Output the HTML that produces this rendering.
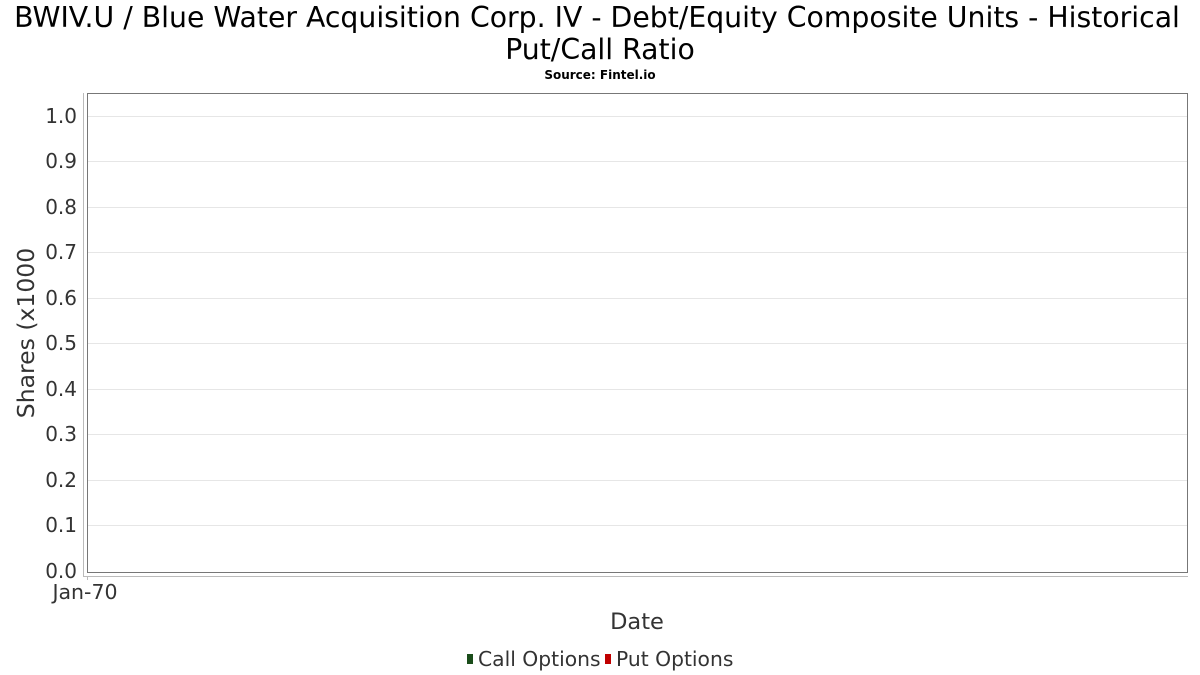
<!DOCTYPE html>
<html><head><meta charset="utf-8"><style>
html,body{margin:0;padding:0;background:#fff;}
svg{display:block;font-family:"DejaVu Sans","Liberation Sans",sans-serif;}
</style></head><body>
<svg width="1200" height="675" xmlns="http://www.w3.org/2000/svg">
<rect width="1200" height="675" fill="#fff"/>
<text x="597" y="27" font-size="28.3" text-anchor="middle" fill="#000">BWIV.U / Blue Water Acquisition Corp. IV - Debt/Equity Composite Units - Historical</text>
<text x="600" y="59" font-size="28.3" text-anchor="middle" fill="#000">Put/Call Ratio</text>
<text x="600" y="79" font-size="12" font-weight="bold" text-anchor="middle" fill="#000">Source: Fintel.io</text>
<g stroke="#e6e6e6" stroke-width="1">
<line x1="88" x2="1188" y1="116.5" y2="116.5"/>
<line x1="88" x2="1188" y1="161.5" y2="161.5"/>
<line x1="88" x2="1188" y1="207.5" y2="207.5"/>
<line x1="88" x2="1188" y1="252.5" y2="252.5"/>
<line x1="88" x2="1188" y1="298.5" y2="298.5"/>
<line x1="88" x2="1188" y1="343.5" y2="343.5"/>
<line x1="88" x2="1188" y1="389.5" y2="389.5"/>
<line x1="88" x2="1188" y1="434.5" y2="434.5"/>
<line x1="88" x2="1188" y1="480.5" y2="480.5"/>
<line x1="88" x2="1188" y1="525.5" y2="525.5"/>
</g>
<rect x="87.5" y="93.5" width="1100" height="479" fill="none" stroke="#777" stroke-width="1"/>
<line x1="83.5" y1="93" x2="83.5" y2="577" stroke="#bbb"/>
<line x1="83" y1="576.5" x2="1188" y2="576.5" stroke="#bbb"/>
<line x1="87.5" y1="576" x2="87.5" y2="580" stroke="#bbb"/>
<g font-size="20" fill="#333" text-anchor="end">
<text x="77" y="123">1.0</text>
<text x="77" y="168">0.9</text>
<text x="77" y="214">0.8</text>
<text x="77" y="259">0.7</text>
<text x="77" y="305">0.6</text>
<text x="77" y="350">0.5</text>
<text x="77" y="396">0.4</text>
<text x="77" y="441">0.3</text>
<text x="77" y="487">0.2</text>
<text x="77" y="532">0.1</text>
<text x="77" y="578">0.0</text>
</g>
<text x="85" y="599" font-size="20.5" fill="#333" text-anchor="middle">Jan-70</text>
<text x="637" y="629" font-size="22.5" fill="#333" text-anchor="middle">Date</text>
<text transform="translate(34,333) rotate(-90)" font-size="23.5" fill="#333" text-anchor="middle">Shares (x1000</text>
<rect x="467" y="654" width="6" height="10" fill="#1a4d1a"/>
<text x="478" y="666" font-size="20.3" fill="#333">Call Options</text>
<rect x="605" y="654" width="6" height="10" fill="#c00000"/>
<text x="616" y="666" font-size="20.3" fill="#333">Put Options</text>
</svg>
</body></html>
